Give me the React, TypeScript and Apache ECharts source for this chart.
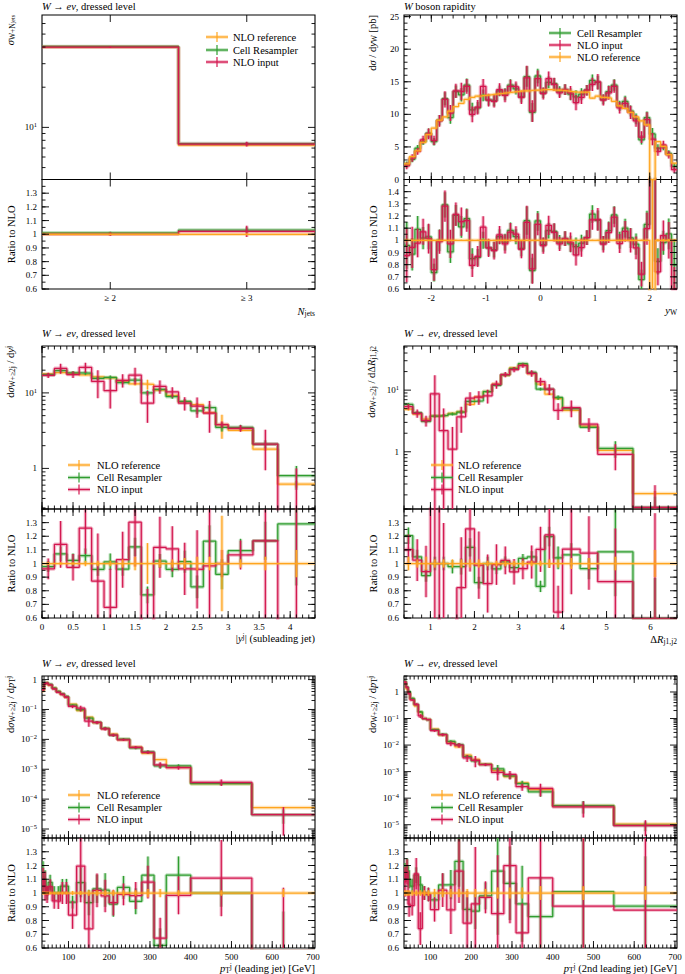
import React, { useEffect, useRef } from 'react';
import * as echarts from 'echarts';

const FONT = '"Liberation Serif", "DejaVu Serif", serif';
const C_REF = '#ffa51f';
const C_CELL = '#2f9d2f';
const C_INPUT = '#d3174f';

// ---------------- Panel 1: N_jets ----------------
const njEdges = [0, 1, 2];
const njRef = [40.0, 7.35];
const njCell = [40.4, 7.57];
const njInput = [40.0, 7.5];
const njRefErr = [0.004, 0.006];
const njCellErr = [0.008, 0.02];
const njInputErr = [0.012, 0.04];

// ---------------- Panel 2: W rapidity ----------------
const rapEdges = [-2.5, -2.4, -2.3, -2.2, -2.1, -2.0, -1.9, -1.8, -1.7, -1.6, -1.5, -1.4, -1.3, -1.2, -1.1, -1.0, -0.9, -0.8, -0.7, -0.6, -0.5, -0.4, -0.3, -0.2, -0.1, 0.0, 0.1, 0.2, 0.3, 0.4, 0.5, 0.6, 0.7, 0.8, 0.9, 1.0, 1.1, 1.2, 1.3, 1.4, 1.5, 1.6, 1.7, 1.8, 1.9, 2.0, 2.1, 2.2, 2.3, 2.4, 2.5];
const rapRef = [2.4, 3.5, 4.4, 5.7, 6.9, 7.9, 9.1, 9.6, 10.5, 11.2, 11.7, 12.3, 12.6, 12.8, 12.9, 13.0, 13.1, 13.2, 13.3, 13.4, 13.5, 13.6, 13.6, 13.7, 13.7, 13.8, 13.8, 13.7, 13.7, 13.6, 13.5, 13.4, 13.4, 13.4, 12.5, 12.8, 12.6, 12.5, 12.0, 11.3, 10.9, 10.3, 9.6, 9.0, 8.4, 0, 5.8, 5.1, 3.8, 2.5];
const rapCell = [2.3, 3.1, 4.8, 5.8, 7.1, 5.8, 9.1, 12.4, 9.5, 13.5, 13.0, 14.5, 10.7, 11.0, 12.9, 12.2, 12.1, 13.6, 13.1, 14.5, 13.9, 12.7, 15.8, 10.3, 15.9, 13.3, 14.9, 14.7, 13.5, 13.8, 13.1, 12.7, 13.1, 13.7, 15.2, 14.9, 12.3, 13.5, 14.5, 11.3, 12.0, 10.5, 9.3, 6.1, 9.5, 7.0, 4.8, 5.0, 4.0, 2.0];
const rapInput = [2.1, 3.3, 4.3, 6.1, 7.0, 6.0, 9.0, 12.3, 10.2, 13.6, 13.5, 14.3, 10.0, 11.1, 14.3, 12.2, 12.0, 13.8, 12.9, 14.3, 14.2, 12.6, 15.6, 10.5, 15.5, 13.2, 15.5, 14.6, 13.3, 13.8, 13.3, 11.8, 12.6, 13.7, 14.6, 15.0, 12.2, 13.3, 14.3, 11.0, 11.7, 10.3, 9.0, 6.5, 9.2, 6.2, 4.3, 5.3, 3.8, 1.5];
const rapRefErr = [0.006, 0.005, 0.005, 0.005, 0.005, 0.005, 0.005, 0.005, 0.005, 0.005, 0.005, 0.005, 0.005, 0.005, 0.005, 0.005, 0.005, 0.005, 0.005, 0.005, 0.005, 0.005, 0.005, 0.005, 0.005, 0.005, 0.005, 0.005, 0.005, 0.005, 0.005, 0.005, 0.005, 0.005, 0.005, 0.005, 0.005, 0.005, 0.005, 0.005, 0.005, 0.005, 0.005, 0.005, 0.005, 0, 0.01, 0.01, 0.01, 0.01];
const rapCellErr = [0.2, 0.15, 0.1, 0.09, 0.1, 0.1, 0.09, 0.08, 0.1, 0.07, 0.08, 0.07, 0.1, 0.08, 0.07, 0.07, 0.07, 0.06, 0.07, 0.06, 0.06, 0.07, 0.1, 0.14, 0.07, 0.06, 0.06, 0.06, 0.06, 0.06, 0.07, 0.08, 0.07, 0.06, 0.06, 0.07, 0.06, 0.07, 0.06, 0.07, 0.07, 0.08, 0.09, 0.12, 0.1, 0.13, 0.13, 0.1, 0.12, 0.25];
const rapInputErr = [0.25, 0.18, 0.12, 0.1, 0.12, 0.12, 0.1, 0.1, 0.12, 0.08, 0.1, 0.08, 0.12, 0.1, 0.08, 0.08, 0.08, 0.07, 0.08, 0.07, 0.06, 0.08, 0.12, 0.16, 0.08, 0.07, 0.07, 0.07, 0.06, 0.06, 0.08, 0.1, 0.08, 0.06, 0.07, 0.08, 0.07, 0.08, 0.07, 0.08, 0.08, 0.1, 0.1, 0.14, 0.12, 0.15, 0.15, 0.12, 0.15, 0.3];

// ---------------- Panel 3: |y^j| subleading jet ----------------
const yjEdges = [0, 0.2, 0.4, 0.6, 0.8, 1.0, 1.2, 1.4, 1.6, 1.8, 2.0, 2.2, 2.4, 2.6, 2.8, 3.0, 3.4, 3.8, 4.4];
const yjRef = [17.8, 18.5, 18.0, 17.3, 16.3, 15.8, 14.3, 13.2, 13.0, 10.9, 9.3, 7.6, 7.0, 5.5, 3.8, 3.2, 1.8, 0.62];
const yjCell = [17.4, 19.8, 18.4, 18.3, 15.6, 16.0, 13.7, 14.8, 10.0, 11.1, 8.9, 7.7, 5.8, 6.4, 3.5, 3.5, 2.1, 0.8];
const yjInput = [17.1, 21.1, 17.5, 21.8, 14.2, 10.7, 14.7, 17.2, 7.3, 12.2, 10.3, 7.3, 6.7, 5.4, 3.8, 3.4, 2.1, 0.2];
const yjRefErr = [0.01, 0.01, 0.01, 0.02, 0.02, 0.02, 0.03, 0.05, 0.15, 0.03, 0.03, 0.04, 0.05, 0.05, 0.35, 0.03, 0.05, 0.1];
const yjCellErr = [0.04, 0.05, 0.05, 0.05, 0.05, 0.06, 0.05, 0.06, 0.08, 0.05, 0.06, 0.08, 0.1, 0.1, 0.12, 0.08, 0.12, 0.35];
const yjInputErr = [0.08, 0.15, 0.1, 0.15, 0.4, 0.42, 0.2, 0.25, 0.45, 0.2, 0.15, 0.2, 0.3, 0.45, 0.1, 0.1, 0.55, 4.0];

// ---------------- Panel 4: Delta R j1,j2 ----------------
const drEdges = [0.4, 0.6, 0.8, 1.0, 1.2, 1.4, 1.6, 1.8, 2.0, 2.2, 2.4, 2.6, 2.8, 3.0, 3.2, 3.4, 3.6, 3.8, 4.0, 4.4, 4.8, 5.6, 6.6];
const drRef = [4.9, 4.1, 3.4, 3.8, 3.9, 4.2, 4.5, 5.9, 7.8, 9.5, 12.5, 17.5, 23, 26, 18.5, 12.5, 8.6, 7.3, 4.7, 2.6, 1.05, 0.21];
const drCell = [5.9, 4.3, 3.1, 3.8, 3.9, 4.1, 4.4, 6.6, 6.7, 9.5, 12.0, 17.7, 22.3, 27.0, 19.4, 10.4, 10.3, 7.6, 5.0, 2.5, 1.14, 0.125];
const drInput = [5.4, 4.2, 3.2, 8.7, 2.2, 1.1, 3.7, 7.4, 7.7, 8.1, 12.4, 17.9, 21.6, 25.0, 18.7, 13.8, 10.4, 4.7, 5.2, 2.8, 0.91, 0.125];
const drRefErr = [0.05, 0.03, 0.05, 0.03, 0.03, 0.03, 0.03, 0.03, 0.03, 0.02, 0.02, 0.02, 0.02, 0.02, 0.02, 0.02, 0.03, 0.03, 0.04, 0.04, 0.05, 0.1];
const drCellErr = [0.05, 0.05, 0.05, 0.05, 0.05, 0.05, 0.06, 0.06, 0.05, 0.05, 0.04, 0.04, 0.04, 0.03, 0.04, 0.05, 0.06, 0.08, 0.08, 0.08, 0.3, 0.5];
const drInputErr = [0.1, 0.15, 0.2, 1.0, 1.3, 1.3, 0.45, 0.25, 0.25, 0.25, 0.15, 0.1, 0.1, 0.08, 0.12, 0.15, 0.2, 0.3, 0.3, 0.25, 0.45, 1.3];

// ---------------- Panel 5: pT leading jet ----------------
const pt1Edges = [35, 40, 45, 50, 60, 70, 80, 90, 100, 120, 140, 160, 180, 200, 220, 250, 280, 310, 340, 400, 550, 705];
const pt1Ref = [0.42, 0.70, 0.78, 0.64, 0.52, 0.40, 0.32, 0.26, 0.15, 0.092, 0.055, 0.036, 0.023, 0.015, 0.0098, 0.0055, 0.0034, 0.0021, 0.00115, 0.00033, 5.2e-5];
const pt1Cell = [0.47, 0.77, 0.78, 0.69, 0.52, 0.40, 0.336, 0.273, 0.14, 0.099, 0.0512, 0.0371, 0.0235, 0.0138, 0.0102, 0.00517, 0.00384, 0.0013, 0.0013, 0.00033, 3.0e-5];
const pt1Input = [0.46, 0.735, 0.77, 0.67, 0.49, 0.376, 0.32, 0.26, 0.126, 0.11, 0.0407, 0.0367, 0.0225, 0.01395, 0.0097, 0.0054, 0.00367, 0.00141, 0.00113, 0.000366, 3.0e-5];
const pt1RefErr = [0.01, 0.01, 0.01, 0.01, 0.01, 0.01, 0.01, 0.01, 0.015, 0.015, 0.02, 0.02, 0.02, 0.02, 0.02, 0.02, 0.03, 0.03, 0.02, 0.02, 0.03];
const pt1CellErr = [0.1, 0.06, 0.05, 0.05, 0.05, 0.05, 0.05, 0.05, 0.05, 0.1, 0.1, 0.1, 0.12, 0.1, 0.08, 0.1, 0.12, 0.2, 0.12, 0.1, 0.5];
const pt1InputErr = [0.08, 0.1, 0.06, 0.05, 0.06, 0.06, 0.08, 0.08, 0.12, 0.22, 0.35, 0.12, 0.12, 0.1, 0.08, 0.1, 0.11, 0.22, 0.14, 0.25, 0.8];

// ---------------- Panel 6: pT 2nd leading jet ----------------
const pt2Edges = [35, 40, 45, 50, 60, 70, 80, 90, 100, 120, 140, 160, 180, 200, 220, 250, 280, 310, 340, 400, 550, 705];
const pt2Ref = [2.2, 1.3, 0.95, 0.55, 0.30, 0.17, 0.10, 0.092, 0.04, 0.024, 0.013, 0.0085, 0.0042, 0.0029, 0.0019, 0.0011, 0.00065, 0.00038, 0.00021, 5.2e-5, 1.05e-5];
const pt2Cell = [2.53, 1.55, 1.045, 0.578, 0.339, 0.18, 0.10, 0.091, 0.038, 0.0254, 0.0138, 0.01046, 0.0037, 0.00252, 0.00186, 0.001276, 0.000696, 0.00035, 0.000174, 5.25e-5, 9.5e-6];
const pt2Input = [2.38, 1.5, 0.874, 0.5, 0.342, 0.126, 0.10, 0.091, 0.0352, 0.0245, 0.0114, 0.00986, 0.00328, 0.00267, 0.00184, 0.000935, 0.00078, 0.00027, 0.000233, 4.7e-5, 9.2e-6];
const pt2RefErr = [0.02, 0.02, 0.02, 0.02, 0.02, 0.02, 0.02, 0.02, 0.03, 0.03, 0.03, 0.03, 0.03, 0.03, 0.03, 0.04, 0.04, 0.04, 0.05, 0.05, 0.05];
const pt2CellErr = [0.06, 0.05, 0.06, 0.05, 0.05, 0.06, 0.05, 0.05, 0.06, 0.08, 0.1, 0.15, 0.1, 0.15, 0.1, 0.4, 0.25, 0.3, 0.35, 0.5, 0.4];
const pt2InputErr = [0.1, 0.08, 0.1, 0.08, 0.1, 0.16, 0.05, 0.05, 0.1, 0.12, 0.2, 0.2, 0.3, 0.45, 0.12, 0.5, 0.35, 0.3, 0.5, 0.6, 0.6];

const NJ_LABELS = ['≥ 2', '≥ 3'];
const LEGEND_NAMES: Record<string, string> = { ref: 'NLO reference', cell: 'Cell Resampler', input: 'NLO input' };
const COLORS: Record<string, string> = { ref: C_REF, cell: C_CELL, input: C_INPUT };

// ---------- helpers (layout only) ----------
const steps = (a: number, b: number, s: number) => {
  const out: number[] = [];
  const n = Math.round((b - a) / s);
  for (let i = 0; i <= n; i++) out.push(+(a + i * s).toFixed(6));
  return out;
};
const logTicks = (mn: number, mx: number) => {
  const out: { v: number; major: boolean }[] = [];
  for (let e = Math.floor(Math.log10(mn)); e <= Math.ceil(Math.log10(mx)); e++) {
    for (let k = 1; k <= 9; k++) {
      const v = Number((k * Math.pow(10, e)).toPrecision(6));
      if (v >= mn && v <= mx) out.push({ v, major: k === 1 });
    }
  }
  return out;
};
const near = (v: number, m: number) => Math.abs(v / m - Math.round(v / m)) < 1e-6;

interface PanelDef {
  left: number; mainTop: number; mainH: number; ratioH: number;
  edges: number[]; data: Record<string, number[]>; errs: Record<string, number[]>;
  xMin: number; xMax: number; xInterval: number; xFmt: (v: number) => string;
  xMajor: number[]; xMinor: number[];
  yLog: boolean; yMin: number; yMax: number; yInterval?: number;
  yMajor?: number[]; yMinor?: number[];
  rMax: number;
  title: string; titleY: number; yTitle: string; yTitleX: number; rTitleX: number;
  xTitle: string; xTitleY: number;
  legend: { sx: number; tx: number; ys: number[]; order: string[] };
}

const W = 273;
const LX = 42;
const RX = 404;

const panels: PanelDef[] = [
  {
    left: LX, mainTop: 15, mainH: 164.5, ratioH: 109.5,
    edges: njEdges, data: { ref: njRef, cell: njCell, input: njInput }, errs: { ref: njRefErr, cell: njCellErr, input: njInputErr },
    xMin: 0, xMax: 2, xInterval: 0.5, xFmt: (v) => (near(v - 0.5, 1) ? NJ_LABELS[Math.round(v - 0.5)] || '' : ''),
    xMajor: [0.5, 1.5], xMinor: [],
    yLog: true, yMin: 4.07, yMax: 69.5, rMax: 1.4,
    title: '{i|W} → {i|eν}, dressed level', titleY: 6,
    yTitle: '{i|σ}{s|W+N}{ss|jets}', yTitleX: 10, rTitleX: 11,
    xTitle: '{i|N}{s|jets}', xTitleY: 311,
    legend: { sx: 206, tx: 233, ys: [37, 50, 62], order: ['ref', 'cell', 'input'] },
  },
  {
    left: RX, mainTop: 15, mainH: 164.5, ratioH: 109.5,
    edges: rapEdges, data: { ref: rapRef, cell: rapCell, input: rapInput }, errs: { ref: rapRefErr, cell: rapCellErr, input: rapInputErr },
    xMin: -2.5, xMax: 2.5, xInterval: 0.5, xFmt: (v) => (near(v, 1) ? String(Math.round(v)) : ''),
    xMajor: steps(-2, 2, 1), xMinor: steps(-2.4, 2.4, 0.2),
    yLog: false, yMin: 0, yMax: 25.25, yInterval: 5, yMajor: steps(0, 25, 5), yMinor: steps(0, 25, 1),
    rMax: 1.5,
    title: '{i|W} boson rapidity', titleY: 6,
    yTitle: 'd{i|σ} / d{i|y}{s|W} [pb]', yTitleX: 372, rTitleX: 373,
    xTitle: '{i|y}{s|W}', xTitleY: 310,
    legend: { sx: 549, tx: 577, ys: [33, 45, 57], order: ['cell', 'input', 'ref'] },
  },
  {
    left: LX, mainTop: 346, mainH: 163, ratioH: 109,
    edges: yjEdges, data: { ref: yjRef, cell: yjCell, input: yjInput }, errs: { ref: yjRefErr, cell: yjCellErr, input: yjInputErr },
    xMin: 0, xMax: 4.4, xInterval: 0.5, xFmt: (v) => (near(v, 0.5) && v < 4.3 ? String(+v.toFixed(1)) : ''),
    xMajor: steps(0, 4, 0.5), xMinor: steps(0, 4.4, 0.1),
    yLog: true, yMin: 0.29, yMax: 41.8, rMax: 1.4,
    title: '{i|W} → {i|eν}, dressed level', titleY: 333,
    yTitle: 'd{i|σ}{s|W+≥2j} / d{i|y}{sup|j}', yTitleX: 10, rTitleX: 11,
    xTitle: '|{i|y}{sup|j}| (subleading jet)', xTitleY: 638,
    legend: { sx: 68, tx: 97, ys: [465, 477.5, 489.5], order: ['ref', 'cell', 'input'] },
  },
  {
    left: RX, mainTop: 346, mainH: 163, ratioH: 109,
    edges: drEdges, data: { ref: drRef, cell: drCell, input: drInput }, errs: { ref: drRefErr, cell: drCellErr, input: drInputErr },
    xMin: 0.4, xMax: 6.6, xInterval: 0.2, xFmt: (v) => (near(v, 1) ? String(Math.round(v)) : ''),
    xMajor: steps(1, 6, 1), xMinor: steps(0.4, 6.6, 0.2),
    yLog: true, yMin: 0.118, yMax: 52, rMax: 1.4,
    title: '{i|W} → {i|eν}, dressed level', titleY: 333,
    yTitle: 'd{i|σ}{s|W+≥2j} / dΔ{i|R}{s|j1,j2}', yTitleX: 371, rTitleX: 373,
    xTitle: 'Δ{i|R}{s|j1,j2}', xTitleY: 639,
    legend: { sx: 431, tx: 458, ys: [465, 477.5, 489.5], order: ['ref', 'cell', 'input'] },
  },
  {
    left: LX, mainTop: 676, mainH: 162, ratioH: 110,
    edges: pt1Edges, data: { ref: pt1Ref, cell: pt1Cell, input: pt1Input }, errs: { ref: pt1RefErr, cell: pt1CellErr, input: pt1InputErr },
    xMin: 35, xMax: 705, xInterval: 5, xFmt: (v) => (near(v, 100) ? String(Math.round(v)) : ''),
    xMajor: steps(100, 700, 100), xMinor: steps(40, 700, 10),
    yLog: true, yMin: 5.0e-6, yMax: 1.32, rMax: 1.4,
    title: '{i|W} → {i|eν}, dressed level', titleY: 663,
    yTitle: 'd{i|σ}{s|W+≥2j} / d{i|p}{s|T}{sup|j}', yTitleX: 10, rTitleX: 11,
    xTitle: '{i|p}{s|T}{sup|j} (leading jet) [GeV]', xTitleY: 968,
    legend: { sx: 68, tx: 97, ys: [795, 807.5, 819.5], order: ['ref', 'cell', 'input'] },
  },
  {
    left: RX, mainTop: 676, mainH: 162, ratioH: 110,
    edges: pt2Edges, data: { ref: pt2Ref, cell: pt2Cell, input: pt2Input }, errs: { ref: pt2RefErr, cell: pt2CellErr, input: pt2InputErr },
    xMin: 35, xMax: 705, xInterval: 5, xFmt: (v) => (near(v, 100) ? String(Math.round(v)) : ''),
    xMajor: steps(100, 700, 100), xMinor: steps(40, 700, 10),
    yLog: true, yMin: 3.16e-6, yMax: 4.0, rMax: 1.4,
    title: '{i|W} → {i|eν}, dressed level', titleY: 663,
    yTitle: 'd{i|σ}{s|W+≥2j} / d{i|p}{s|T}{sup|j}', yTitleX: 372, rTitleX: 373,
    xTitle: '{i|p}{s|T}{sup|j} (2nd leading jet) [GeV]', xTitleY: 968,
    legend: { sx: 431, tx: 458, ys: [795, 807.5, 819.5], order: ['ref', 'cell', 'input'] },
  },
];

const RICH = {
  i: { fontStyle: 'italic', fontFamily: FONT, fontSize: 10.5, lineHeight: 12, fill: '#000', color: '#000' },
  s: { fontFamily: FONT, fontSize: 7.5, lineHeight: 7, verticalAlign: 'bottom', fill: '#000', color: '#000' },
  ss: { fontFamily: FONT, fontSize: 6, lineHeight: 6, verticalAlign: 'bottom', fill: '#000', color: '#000' },
  sup: { fontFamily: FONT, fontSize: 7.5, lineHeight: 7, verticalAlign: 'top', fill: '#000', color: '#000' },
};

const logFmt = (v: number) => {
  const l = Math.log10(v);
  const e = Math.round(l);
  if (Math.abs(l - e) > 1e-6) return '';
  if (e === 0) return '1';
  return '10{sup|' + (e < 0 ? '−' + -e : String(e)) + '}';
};
const ratioFmt = (v: number) => {
  const r = Math.round(v * 10) / 10;
  if (Math.abs(v - r) > 1e-6) return '';
  return r === 1 ? '1' : r.toFixed(1);
};

function buildOption() {
  const grid: any[] = [];
  const xAxis: any[] = [];
  const yAxis: any[] = [];
  const series: any[] = [];
  const graphic: any[] = [];

  const labelBase = { fontFamily: FONT, fontSize: 9, color: '#000', margin: 5, interval: 0, lineHeight: 10 };

  const tickSeries = (gi: number, xs: { v: number; len: number }[], ys: { v: number; len: number }[], xRef: number, yRef: number) => {
    const data: number[][] = [];
    xs.forEach((t) => data.push([t.v, yRef, 0, t.len]));
    ys.forEach((t) => data.push([xRef, t.v, 1, t.len]));
    series.push({
      type: 'custom', xAxisIndex: gi, yAxisIndex: gi, silent: true, z: 10,
      encode: { x: 0, y: 1 },
      data,
      renderItem: (params: any, api: any) => {
        const cs = params.coordSys;
        const p = api.coord([api.value(0), api.value(1)]);
        const flag = api.value(2);
        const len = api.value(3);
        const st = { stroke: '#000', lineWidth: 0.9 };
        if (flag === 0) {
          const x = p[0];
          return {
            type: 'group', children: [
              { type: 'line', shape: { x1: x, y1: cs.y + cs.height, x2: x, y2: cs.y + cs.height - len }, style: st },
              { type: 'line', shape: { x1: x, y1: cs.y, x2: x, y2: cs.y + len }, style: st },
            ],
          };
        }
        const y = p[1];
        return {
          type: 'group', children: [
            { type: 'line', shape: { x1: cs.x, y1: y, x2: cs.x + len, y2: y }, style: st },
            { type: 'line', shape: { x1: cs.x + cs.width, y1: y, x2: cs.x + cs.width - len, y2: y }, style: st },
          ],
        };
      },
    });
  };

  const histSeries = (gi: number, edges: number[], vals: number[], color: string, z: number) => {
    const n = vals.length;
    const d = edges.map((e, i) => [e, vals[Math.min(i, n - 1)]]);
    series.push({
      type: 'line', xAxisIndex: gi, yAxisIndex: gi, step: 'end', showSymbol: false, symbol: 'none', silent: true,
      data: d, z: z - 1, clip: true,
      lineStyle: { color, width: 3.6, opacity: 0.3 }, itemStyle: { color },
    });
    series.push({
      type: 'line', xAxisIndex: gi, yAxisIndex: gi, step: 'end', showSymbol: false, symbol: 'none', silent: true,
      data: d, z, clip: true,
      lineStyle: { color, width: 1.25 }, itemStyle: { color },
    });
  };

  const errSeries = (gi: number, items: number[][], color: string, z: number) => {
    series.push({
      type: 'custom', xAxisIndex: gi, yAxisIndex: gi, silent: true, z, clip: true,
      encode: { x: 0, y: [1, 2] },
      data: items,
      renderItem: (params: any, api: any) => {
        const lo = api.value(1);
        const hi = api.value(2);
        if (!(hi > lo)) return null;
        const a = api.coord([api.value(0), lo]);
        const b = api.coord([api.value(0), hi]);
        return {
          type: 'group', children: [
            { type: 'line', shape: { x1: a[0], y1: a[1], x2: b[0], y2: b[1] }, style: { stroke: color, lineWidth: 3.4, opacity: 0.3 } },
            { type: 'line', shape: { x1: a[0], y1: a[1], x2: b[0], y2: b[1] }, style: { stroke: color, lineWidth: 1.2 } },
          ],
        };
      },
    });
  };

  const richText = (text: string, x: number, y: number, opts: any = {}) => ({
    type: 'text', x, y, rotation: opts.rotation || 0, silent: true, z: 20,
    style: {
      text, rich: RICH, fontFamily: FONT, fontSize: 10.5, fill: '#000',
      align: opts.align || 'left', verticalAlign: opts.verticalAlign || 'middle', lineHeight: 12,
    },
  });

  panels.forEach((p, k) => {
    const gm = 2 * k;
    const gr = 2 * k + 1;
    const ratioTop = p.mainTop + p.mainH;
    const gridStyle = { show: true, borderColor: '#000', borderWidth: 1.1, backgroundColor: 'rgba(0,0,0,0)' };
    grid.push({ left: p.left, top: p.mainTop, width: W, height: p.mainH, ...gridStyle });
    grid.push({ left: p.left, top: ratioTop, width: W, height: p.ratioH, ...gridStyle });

    const hidden = { axisLine: { show: false }, axisTick: { show: false }, splitLine: { show: false }, minorTick: { show: false } };
    xAxis.push({ type: 'value', gridIndex: gm, min: p.xMin, max: p.xMax, ...hidden, axisLabel: { show: false } });
    xAxis.push({
      type: 'value', gridIndex: gr, min: p.xMin, max: p.xMax, interval: p.xInterval, ...hidden,
      axisLabel: { ...labelBase, margin: 4, formatter: p.xFmt, showMinLabel: true, showMaxLabel: true },
    });
    if (p.yLog) {
      yAxis.push({
        type: 'log', logBase: 10, gridIndex: gm, min: p.yMin, max: p.yMax, ...hidden,
        axisLabel: {
          ...labelBase, formatter: logFmt, showMinLabel: false, showMaxLabel: false, lineHeight: 12,
          rich: { sup: { fontFamily: FONT, fontSize: 6.5, lineHeight: 8, verticalAlign: 'top', color: '#000' } },
        },
      });
    } else {
      yAxis.push({
        type: 'value', gridIndex: gm, min: p.yMin, max: p.yMax, interval: p.yInterval, ...hidden,
        axisLabel: { ...labelBase, showMaxLabel: false, formatter: (v: number) => (near(v, 5) ? String(Math.round(v)) : '') },
      });
    }
    yAxis.push({
      type: 'value', gridIndex: gr, min: 0.6, max: p.rMax, interval: 0.1, ...hidden,
      axisLabel: { ...labelBase, showMaxLabel: false, formatter: ratioFmt },
    });

    // ticks
    const xt = [...p.xMinor.map((v) => ({ v, len: 3.5 })), ...p.xMajor.map((v) => ({ v, len: 7 }))];
    let yt: { v: number; len: number }[];
    if (p.yLog) yt = logTicks(p.yMin, p.yMax).map((t) => ({ v: t.v, len: t.major ? 7 : 3.5 }));
    else yt = [...(p.yMinor || []).map((v) => ({ v, len: 3.5 })), ...(p.yMajor || []).map((v) => ({ v, len: 7 }))];
    tickSeries(gm, xt, yt, p.xMin, p.yMin);
    const rt = [...steps(0.6, p.rMax, 0.05).map((v) => ({ v, len: 3.5 })), ...steps(0.6, p.rMax, 0.1).map((v) => ({ v, len: 7 }))];
    tickSeries(gr, xt, rt, p.xMin, 0.6);

    // data: main plot drawn in legend order (last on top); ratio plot with the reference on top
    const ref = p.data.ref;
    const mainZ: Record<string, number> = {};
    p.legend.order.forEach((key, j) => { mainZ[key] = 3 + 2 * j; });
    const ratioZ: Record<string, number> = { cell: 3, input: 5, ref: 7 };
    ['cell', 'input', 'ref'].forEach((key) => {
      const vals = p.data[key];
      const errs = p.errs[key];
      const color = COLORS[key];
      const centers = vals.map((_, i) => (p.edges[i] + p.edges[i + 1]) / 2);
      // main
      histSeries(gm, p.edges, vals, color, mainZ[key]);
      errSeries(
        gm,
        vals.map((v, i) => [centers[i], Math.max(v * (1 - errs[i]), p.yMin), Math.min(v * (1 + errs[i]), p.yMax)]),
        color, mainZ[key],
      );
      // ratio
      const ratio = vals.map((v, i) => (ref[i] > 0 ? v / ref[i] : v > 0 ? 1000 : 0));
      histSeries(gr, p.edges, ratio, color, ratioZ[key]);
      errSeries(
        gr,
        ratio.map((r, i) => {
          if (ref[i] <= 0 && key === 'ref') return [centers[i], 0.6, p.rMax];
          return [centers[i], Math.max(r * (1 - errs[i]), 0.6), Math.min(r * (1 + errs[i]), p.rMax)];
        }),
        color, ratioZ[key],
      );
    });

    // titles
    graphic.push(richText(p.title, p.left, p.titleY));
    graphic.push(richText(p.yTitle, p.yTitleX, p.mainTop, { rotation: Math.PI / 2, align: 'right' }));
    graphic.push(richText('Ratio to NLO', p.rTitleX, ratioTop + p.ratioH / 2, { rotation: Math.PI / 2, align: 'center' }));
    graphic.push(richText(p.xTitle, p.left + W, p.xTitleY, { align: 'right' }));

    // legend
    p.legend.order.forEach((key, j) => {
      const y = p.legend.ys[j];
      const c = COLORS[key];
      const x1 = p.legend.sx;
      const x2 = p.legend.sx + 22;
      const xm = (x1 + x2) / 2;
      graphic.push({ type: 'line', silent: true, z: 20, shape: { x1, y1: y, x2, y2: y }, style: { stroke: c, lineWidth: 3.6, opacity: 0.3 } });
      graphic.push({ type: 'line', silent: true, z: 20, shape: { x1, y1: y, x2, y2: y }, style: { stroke: c, lineWidth: 1.3 } });
      graphic.push({ type: 'line', silent: true, z: 20, shape: { x1: xm, y1: y - 5, x2: xm, y2: y + 5 }, style: { stroke: c, lineWidth: 1.2 } });
      graphic.push(richText(LEGEND_NAMES[key], p.legend.tx, y));
    });
  });

  return { animation: false, backgroundColor: '#fff', grid, xAxis, yAxis, series, graphic };
}

export default function App() {
  const ref = useRef<HTMLDivElement>(null);
  useEffect(() => {
    if (!ref.current) return;
    const chart = echarts.init(ref.current, null, { renderer: 'svg' });
    chart.setOption(buildOption() as any);
    return () => chart.dispose();
  }, []);
  return <div ref={ref} style={{ position: 'fixed', left: 0, top: 0, width: 685, height: 974, background: '#fff' }} />;
}
